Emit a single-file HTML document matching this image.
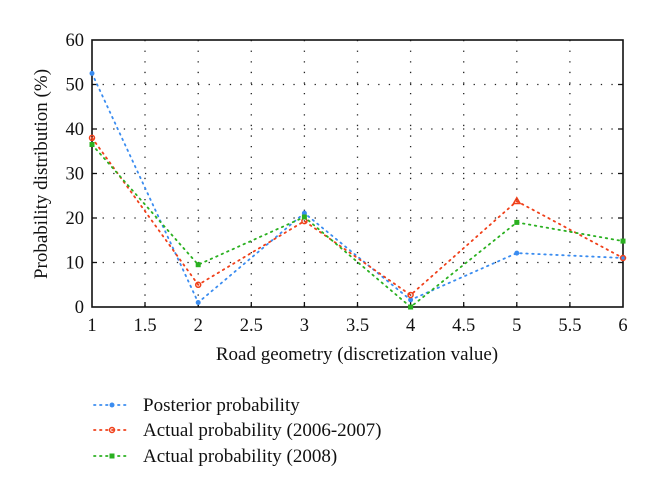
<!DOCTYPE html>
<html><head><style>body{margin:0;background:#fff}svg{display:block}</style></head><body>
<svg width="660" height="500" xmlns="http://www.w3.org/2000/svg" font-family="Liberation Serif, serif">
<rect width="660" height="500" fill="#fff"/>
<g stroke="#222" stroke-width="1.3" stroke-dasharray="1.3 9.3">
<line x1="145" y1="40" x2="145" y2="307"/><line x1="198.2" y1="40" x2="198.2" y2="307"/>
<line x1="251.3" y1="40" x2="251.3" y2="307"/><line x1="304.4" y1="40" x2="304.4" y2="307"/>
<line x1="357.5" y1="40" x2="357.5" y2="307"/><line x1="410.6" y1="40" x2="410.6" y2="307"/>
<line x1="463.7" y1="40" x2="463.7" y2="307"/><line x1="516.8" y1="40" x2="516.8" y2="307"/>
<line x1="569.9" y1="40" x2="569.9" y2="307"/>
<line x1="92" y1="84.5" x2="623" y2="84.5"/><line x1="92" y1="129" x2="623" y2="129"/>
<line x1="92" y1="173.5" x2="623" y2="173.5"/><line x1="92" y1="218" x2="623" y2="218"/>
<line x1="92" y1="262.5" x2="623" y2="262.5"/>
</g>
<rect x="92" y="40" width="531" height="267" fill="none" stroke="#111" stroke-width="1.6"/>
<g stroke="#111" stroke-width="1.3">
<line x1="145" y1="307" x2="145" y2="302"/><line x1="198.2" y1="307" x2="198.2" y2="302"/><line x1="251.3" y1="307" x2="251.3" y2="302"/><line x1="304.4" y1="307" x2="304.4" y2="302"/><line x1="357.5" y1="307" x2="357.5" y2="302"/><line x1="410.6" y1="307" x2="410.6" y2="302"/><line x1="463.7" y1="307" x2="463.7" y2="302"/><line x1="516.8" y1="307" x2="516.8" y2="302"/><line x1="569.9" y1="307" x2="569.9" y2="302"/>
<line x1="92" y1="84.5" x2="97" y2="84.5"/><line x1="92" y1="129" x2="97" y2="129"/><line x1="92" y1="173.5" x2="97" y2="173.5"/><line x1="92" y1="218" x2="97" y2="218"/><line x1="92" y1="262.5" x2="97" y2="262.5"/>
<line x1="623" y1="84.5" x2="618" y2="84.5"/><line x1="623" y1="129" x2="618" y2="129"/><line x1="623" y1="173.5" x2="618" y2="173.5"/><line x1="623" y1="218" x2="618" y2="218"/><line x1="623" y1="262.5" x2="618" y2="262.5"/>
</g>
<g fill="none" stroke-width="1.8" stroke-dasharray="1.5 4.5" stroke-linecap="round">
<polyline stroke="#3a8cf0" points="92,73.4 198.2,302.5 304.4,213.1 410.6,299.9 516.8,253.1 623,258"/>
<polyline stroke="#f0401a" points="92,137.9 198.2,284.8 304.4,221.1 410.6,295 516.8,201.2 623,258"/>
<polyline stroke="#2ab020" points="92,144.6 198.2,264.7 304.4,217 410.6,307 516.8,222.4 623,241.1"/>
</g>
<g fill="#3a8cf0"><circle cx="92" cy="73.4" r="2.5"/><circle cx="198.2" cy="302.5" r="2.5"/><circle cx="304.4" cy="213.1" r="2.5"/><circle cx="410.6" cy="299.9" r="2.5"/><circle cx="516.8" cy="253.1" r="2.5"/><circle cx="623" cy="258" r="2.5"/></g>
<g fill="none" stroke="#f0401a" stroke-width="1.5"><circle cx="92" cy="137.9" r="2.5"/><circle cx="198.2" cy="284.8" r="2.5"/><circle cx="304.4" cy="221.1" r="2.5"/><circle cx="410.6" cy="295" r="2.5"/><path d="M513.5,203.5 L516.8,197.8 L520.1,203.5Z"/><circle cx="623" cy="258" r="2.5"/></g>
<g fill="#2ab020"><rect x="89.5" y="142" width="5" height="5"/><rect x="195.7" y="262.2" width="5" height="5"/><rect x="301.9" y="214.5" width="5" height="5"/><rect x="408.1" y="304.5" width="5" height="5"/><rect x="514.3" y="219.9" width="5" height="5"/><rect x="620.5" y="238.6" width="5" height="5"/></g>
<g font-size="18.5" fill="#111" text-anchor="middle">
<text x="92" y="331">1</text><text x="145" y="331">1.5</text><text x="198.2" y="331">2</text><text x="251.3" y="331">2.5</text><text x="304.4" y="331">3</text><text x="357.5" y="331">3.5</text><text x="410.6" y="331">4</text><text x="463.7" y="331">4.5</text><text x="516.8" y="331">5</text><text x="569.9" y="331">5.5</text><text x="623" y="331">6</text>
</g>
<g font-size="18.5" fill="#111" text-anchor="end">
<text x="84" y="46">60</text><text x="84" y="90.5">50</text><text x="84" y="135">40</text><text x="84" y="179.5">30</text><text x="84" y="224">20</text><text x="84" y="268.5">10</text><text x="84" y="313">0</text>
</g>
<text x="357" y="360" font-size="19" text-anchor="middle" fill="#111">Road geometry (discretization value)</text>
<text transform="translate(47,174) rotate(-90)" font-size="19" text-anchor="middle" fill="#111">Probability distribution (%)</text>
<g fill="none" stroke-width="1.8" stroke-dasharray="1.5 4.5" stroke-linecap="round">
<line x1="94" y1="405" x2="130" y2="405" stroke="#3a8cf0"/>
<line x1="94" y1="430" x2="130" y2="430" stroke="#f0401a"/>
<line x1="94" y1="456" x2="130" y2="456" stroke="#2ab020"/>
</g>
<circle cx="112" cy="405" r="2.5" fill="#3a8cf0"/>
<circle cx="112" cy="430" r="2.5" fill="none" stroke="#f0401a" stroke-width="1.5"/>
<rect x="109.5" y="453.5" width="5" height="5" fill="#2ab020"/>
<g font-size="19" fill="#111">
<text x="143" y="411">Posterior probability</text>
<text x="143" y="436">Actual probability (2006-2007)</text>
<text x="143" y="462">Actual probability (2008)</text>
</g>
</svg>
</body></html>
